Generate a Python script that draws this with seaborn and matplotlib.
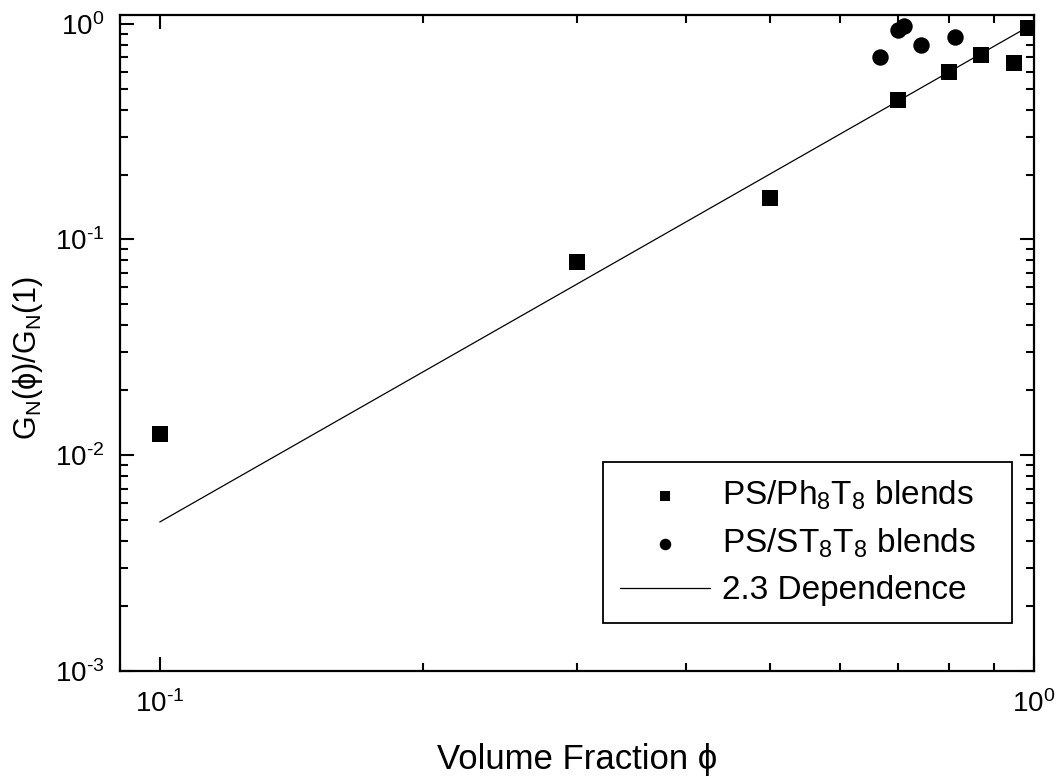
import numpy as np
import pandas as pd
import matplotlib
matplotlib.use("Agg")
import matplotlib.pyplot as plt
import matplotlib.ticker as mticker
import seaborn as sns

# Data
ph_x = [0.10, 0.30, 0.50, 0.70, 0.80, 0.87, 0.95, 0.985]
ph_y = [0.0125, 0.079, 0.155, 0.443, 0.598, 0.717, 0.659, 0.958]
st_x = [0.668, 0.70, 0.71, 0.744, 0.814]
st_y = [0.703, 0.935, 0.98, 0.80, 0.87]
dep_x = [0.1, 1.0]
dep_y = [0.0049, 1.0]

sns.set_style("ticks")
plt.rcParams['font.family'] = ['Liberation Sans', 'DejaVu Sans']
plt.rcParams['mathtext.fontset'] = 'custom'
plt.rcParams['mathtext.rm'] = 'Liberation Sans'
plt.rcParams['mathtext.it'] = 'Liberation Sans:italic'
plt.rcParams['mathtext.bf'] = 'Liberation Sans:bold'
for k in ['text.color', 'axes.labelcolor', 'xtick.color', 'ytick.color', 'axes.edgecolor']:
    plt.rcParams[k] = 'black'

fig = plt.figure(figsize=(10.6, 7.81), dpi=100)
ax = fig.add_axes([0.113, 0.141, 0.862, 0.840])

df_ph = pd.DataFrame({'x': ph_x, 'y': ph_y})
df_st = pd.DataFrame({'x': st_x, 'y': st_y})
df_dep = pd.DataFrame({'x': dep_x, 'y': dep_y})

sns.lineplot(data=df_dep, x='x', y='y', ax=ax, color='black', lw=0.9,
             label='2.3 Dependence', zorder=2)
sns.scatterplot(data=df_ph, x='x', y='y', ax=ax, marker='s', s=125, color='black',
                edgecolor='black', linewidth=0, label=r'PS/Ph$_{8}$T$_{8}$ blends', zorder=3)
sns.scatterplot(data=df_st, x='x', y='y', ax=ax, marker='o', s=140, color='black',
                edgecolor='black', linewidth=0, label=r'PS/ST$_{8}$T$_{8}$ blends', zorder=3)

ax.set_xscale('log')
ax.set_yscale('log')
ax.set_xlim(0.09, 1.0)
ax.set_ylim(1e-3, 1.1)

def fmt(v, pos):
    e = int(round(np.log10(v)))
    return r'10$^{\text{%d}}$' % e

ax.xaxis.set_major_locator(mticker.FixedLocator([0.1, 1.0]))
ax.yaxis.set_major_locator(mticker.FixedLocator([1e-3, 1e-2, 1e-1, 1.0]))
ax.xaxis.set_major_formatter(mticker.FuncFormatter(fmt))
ax.yaxis.set_major_formatter(mticker.FuncFormatter(fmt))
ax.xaxis.set_minor_formatter(mticker.NullFormatter())
ax.yaxis.set_minor_formatter(mticker.NullFormatter())

ax.set_xlabel('Volume Fraction ϕ', fontsize=25)
ax.set_ylabel(r'G$_{\mathregular{N}}$(ϕ)/G$_{\mathregular{N}}$(1)', fontsize=22)
ax.xaxis.set_label_coords(0.5, -0.110)
ax.yaxis.set_label_coords(-0.082, 0.477)

for s in ax.spines.values():
    s.set_linewidth(1.6)
    s.set_color('black')

ax.tick_params(which='both', direction='in', top=True, right=True)
ax.tick_params(which='major', length=10, width=1.5, labelsize=20)
ax.tick_params(which='minor', length=6, width=1.5)
ax.tick_params(axis='x', which='major', pad=14)
ax.tick_params(axis='y', which='major', pad=11)

handles, labels = ax.get_legend_handles_labels()
order = [1, 2, 0]
leg = ax.legend([handles[i] for i in order], [labels[i] for i in order],
                loc='lower left', bbox_to_anchor=(0.529, 0.073, 0.448, 0.256),
                mode='expand', fontsize=24,
                frameon=True, fancybox=False, framealpha=1, edgecolor='black',
                markerscale=0.7, handlelength=2.7, borderpad=0.5, labelspacing=0.45,
                handletextpad=0.36, borderaxespad=0)
leg.get_frame().set_linewidth(1.3)

fig.savefig('out.png', dpi=100)
